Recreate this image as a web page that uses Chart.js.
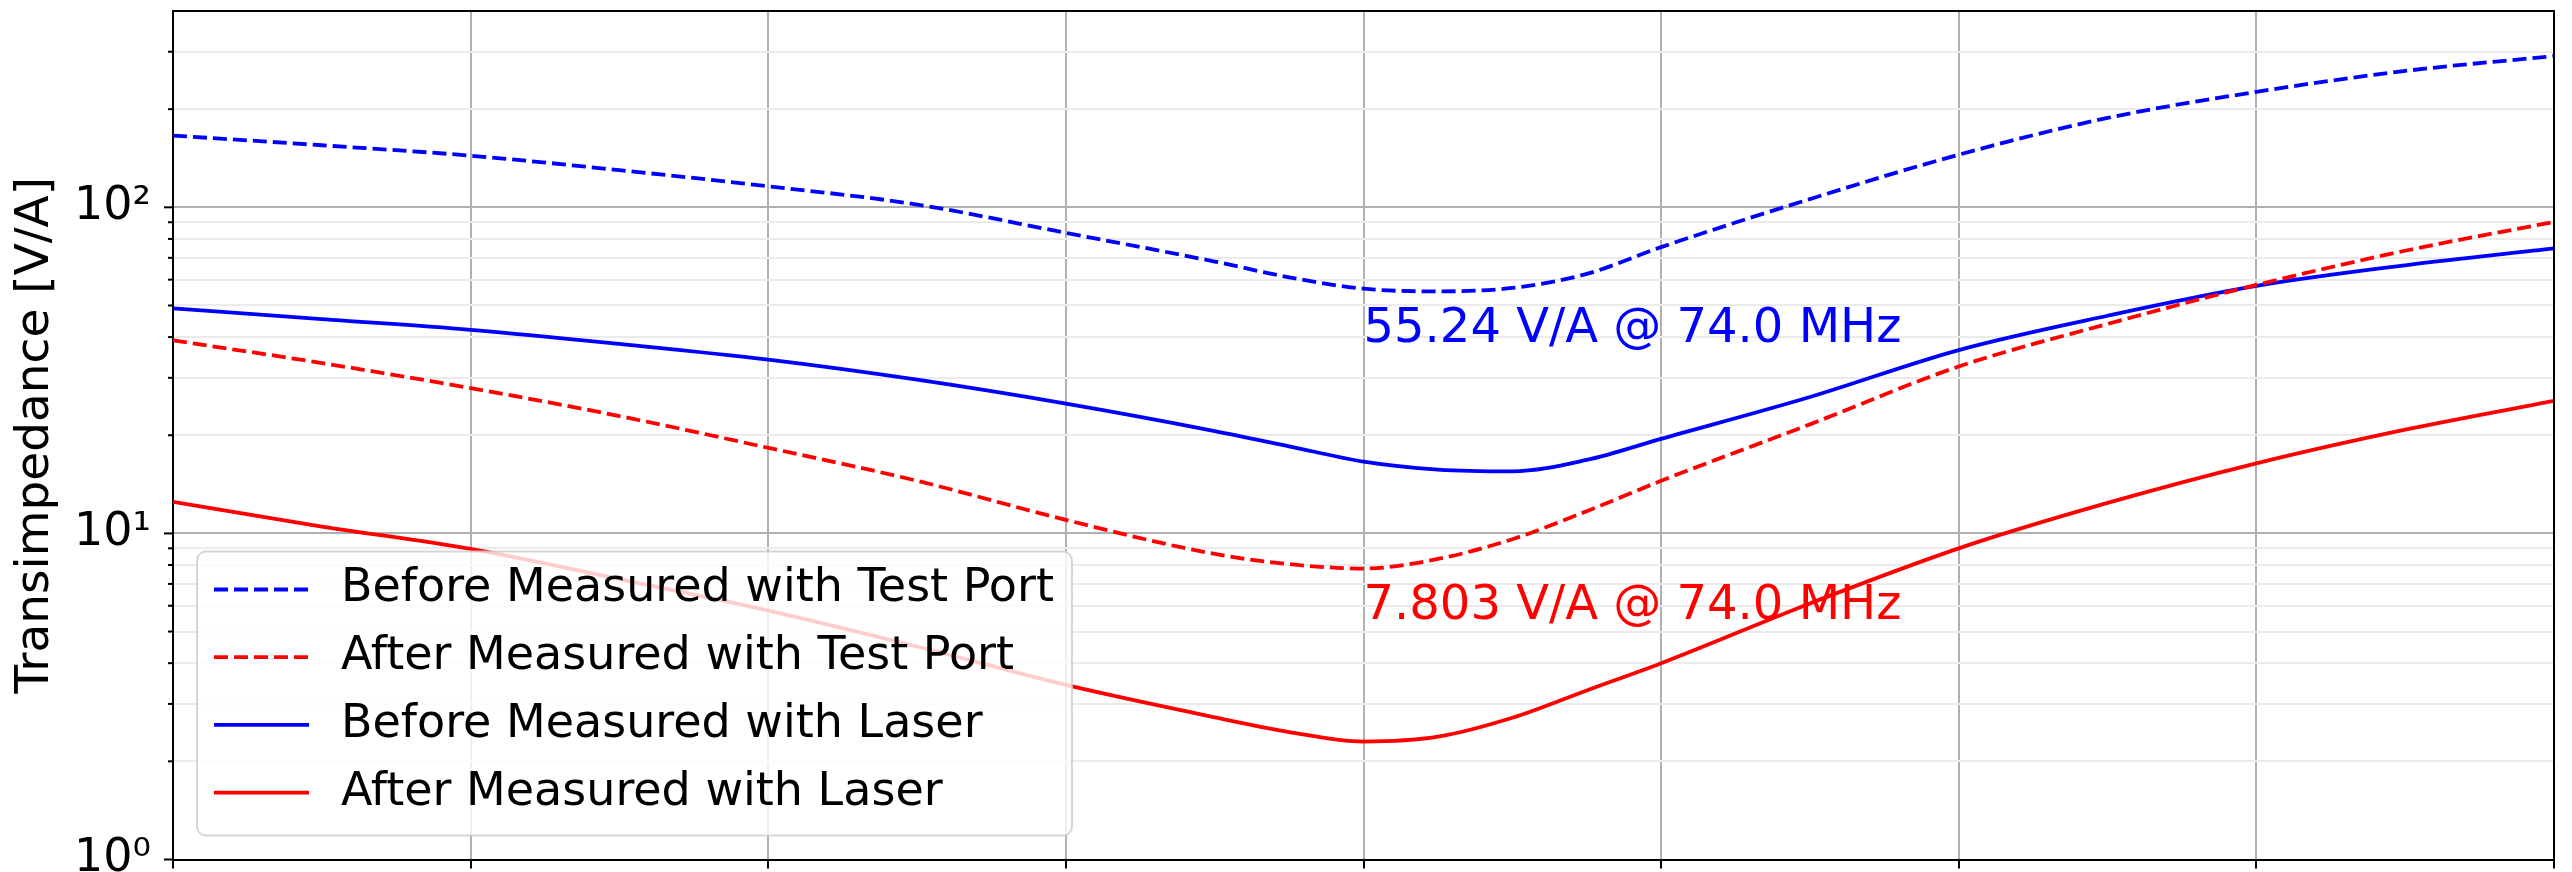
<!DOCTYPE html>
<html>
<head>
<meta charset="utf-8">
<script src="https://cdn.jsdelivr.net/npm/chart.js@4.4.1/dist/chart.umd.min.js"></script>
<style>
  html, body { margin: 0; padding: 0; background: #fff; overflow: hidden; }
  #wrap { position: relative; width: 2572px; height: 872px; }
</style>
</head>
<body>
<div id="wrap"><canvas id="tiaChart"></canvas></div>
<script>
// Frequency points [MHz]
const freqMHz = [70, 70.5, 71, 71.5, 72, 72.5, 73, 73.5, 73.75, 74, 74.25, 74.5, 74.75, 75, 75.5, 76, 76.5, 77, 77.5, 78];

// Transimpedance [V/A]
const beforeTestPort = [166, 155, 144, 130, 116, 102, 83.5, 68.2, 61.0, 56.3, 55.24, 56.6, 62.5, 75.5, 106, 145, 188, 226, 262, 291];
const afterTestPort  = [39.1, 33.3, 27.9, 22.9, 18.3, 14.5, 11.0, 8.65, 8.05, 7.803, 8.35, 9.6, 11.7, 14.5, 21.6, 32.5, 43.9, 57.8, 73.6, 90.2];
const beforeLaser    = [49.0, 45.4, 42.1, 38.1, 34.1, 29.6, 25.0, 20.6, 18.5, 16.6, 15.7, 15.5, 16.8, 19.5, 26.2, 36.5, 46.5, 57.4, 66.4, 74.8];
const afterLaser     = [12.5, 10.5, 8.96, 7.24, 5.8, 4.5, 3.43, 2.73, 2.46, 2.30, 2.38, 2.72, 3.3, 4.0, 6.1, 9.0, 12.4, 16.4, 20.8, 25.5];

// Minimum markers (for the two test port curves)
const minFreq  = [74.0, 74.0];
const minValue = [55.24, 7.803];

// Axis ticks
const yTicks = [1, 2, 3, 4, 5, 6, 7, 8, 9, 10, 20, 30, 40, 50, 60, 70, 80, 90, 100, 200, 300];
const sup = { '0': '\u2070', '1': '\u00b9', '2': '\u00b2', '3': '\u00b3' };

const FONT = 'DejaVu Sans';
Chart.defaults.font.family = FONT;
Chart.defaults.color = '#000';

function isDecade(v) {
    const l = Math.log10(v);
    return Math.abs(l - Math.round(l)) < 1e-9;
}

function toPoints(vals) {
    return freqMHz.map((f, i) => ({ x: f, y: vals[i] }));
}

// spines, minor tick marks, min labels and the legend box
const extras = {
    id: 'extras',
    afterDatasetsDraw(chart) {
        const { ctx, chartArea: a, scales: { x, y } } = chart;
        ctx.save();
        ctx.strokeStyle = '#000';
        ctx.lineWidth = 2;
        ctx.beginPath();
        ctx.moveTo(a.left, a.top);
        ctx.lineTo(a.right, a.top);
        ctx.lineTo(a.right, a.bottom);
        ctx.stroke();

        y.ticks.forEach(t => {
            const py = y.getPixelForValue(t.value);
            const len = isDecade(t.value) ? 9 : 5;
            ctx.beginPath();
            ctx.moveTo(a.left - len, py);
            ctx.lineTo(a.left, py);
            ctx.stroke();
        });

        ctx.font = '48px "' + FONT + '"';
        ctx.textAlign = 'left';
        ctx.textBaseline = 'alphabetic';
        minFreq.forEach((f, i) => {
            ctx.fillStyle = chart.data.datasets[i].borderColor;
            const txt = minValue[i].toPrecision(4) + ' V/A @ ' + f.toFixed(1) + ' MHz';
            ctx.fillText(txt, x.getPixelForValue(f), y.getPixelForValue(minValue[i] * 0.7));
        });

        // legend
        ctx.font = '46px "' + FONT + '"';
        const ds = chart.data.datasets;
        const textW = Math.max(...ds.map(d => ctx.measureText(d.label).width));
        const bh = 284;
        const bw = 144 + textW + 18;
        const bx = a.left + 24;
        const by = a.bottom - 24 - bh;
        ctx.beginPath();
        ctx.roundRect(bx, by, bw, bh, 9);
        ctx.fillStyle = 'rgba(255,255,255,0.8)';
        ctx.fill();
        ctx.strokeStyle = 'rgba(204,204,204,0.8)';
        ctx.lineWidth = 2;
        ctx.stroke();
        ds.forEach((d, i) => {
            const ry = by + 38 + i * 67.7;
            ctx.strokeStyle = d.borderColor;
            ctx.lineWidth = d.borderWidth;
            ctx.setLineDash(d.borderDash || []);
            ctx.beginPath();
            ctx.moveTo(bx + 17, ry);
            ctx.lineTo(bx + 112, ry);
            ctx.stroke();
            ctx.setLineDash([]);
            ctx.fillStyle = '#000';
            ctx.textBaseline = 'middle';
            ctx.fillText(d.label, bx + 144, ry);
        });
        ctx.restore();
    }
};

const ctx = document.getElementById('tiaChart').getContext('2d');
const tiaChart = new Chart(ctx, {
    type: 'line',
    data: {
        datasets: [
            { label: 'Before Measured with Test Port', data: toPoints(beforeTestPort), borderColor: '#0000ff', borderDash: [14, 6], borderWidth: 3.8 },
            { label: 'After Measured with Test Port', data: toPoints(afterTestPort), borderColor: '#ff0000', borderDash: [14, 6], borderWidth: 3.8 },
            { label: 'Before Measured with Laser', data: toPoints(beforeLaser), borderColor: '#0000ff', borderWidth: 3.8 },
            { label: 'After Measured with Laser', data: toPoints(afterLaser), borderColor: '#ff0000', borderWidth: 3.8 }
        ]
    },
    options: {
        responsive: true,
        maintainAspectRatio: false,
        animation: false,
        devicePixelRatio: 1,
        layout: { padding: { top: 11, right: 18, left: 0, bottom: 0 } },
        elements: {
            point: { radius: 0 },
            line: { cubicInterpolationMode: 'monotone', fill: false }
        },
        plugins: {
            legend: { display: false },
            tooltip: { enabled: false }
        },
        scales: {
            x: {
                type: 'linear',
                min: 70,
                max: 78,
                ticks: { display: false, stepSize: 1 },
                grid: { color: '#b0b0b0', lineWidth: 2, tickLength: 9, tickColor: '#000', tickWidth: 2 },
                border: { color: '#000', width: 2 },
                afterFit(s) { s.height = 872 - 859.5; s.paddingLeft = 0; s.paddingRight = 0; }
            },
            y: {
                type: 'logarithmic',
                min: 1,
                max: 400,
                afterBuildTicks(s) { s.ticks = yTicks.map(v => ({ value: v })); },
                ticks: {
                    autoSkip: false,
                    padding: 22,
                    font: { size: 46 },
                    color: '#000',
                    callback: v => isDecade(v) ? '10' + sup[String(Math.round(Math.log10(v)))] : ''
                },
                grid: {
                    drawTicks: false,
                    lineWidth: 2,
                    color: c => (c.tick && isDecade(c.tick.value)) ? '#b0b0b0' : '#ebebeb'
                },
                border: { color: '#000', width: 2 },
                title: {
                    display: true,
                    text: 'Transimpedance [V/A]',
                    font: { size: 47 },
                    color: '#000',
                    padding: { top: 8, bottom: 0 }
                },
                afterFit(s) { s.width = 173; s.paddingTop = 0; s.paddingBottom = 0; }
            }
        }
    },
    plugins: [extras]
});
</script>
</body>
</html>
